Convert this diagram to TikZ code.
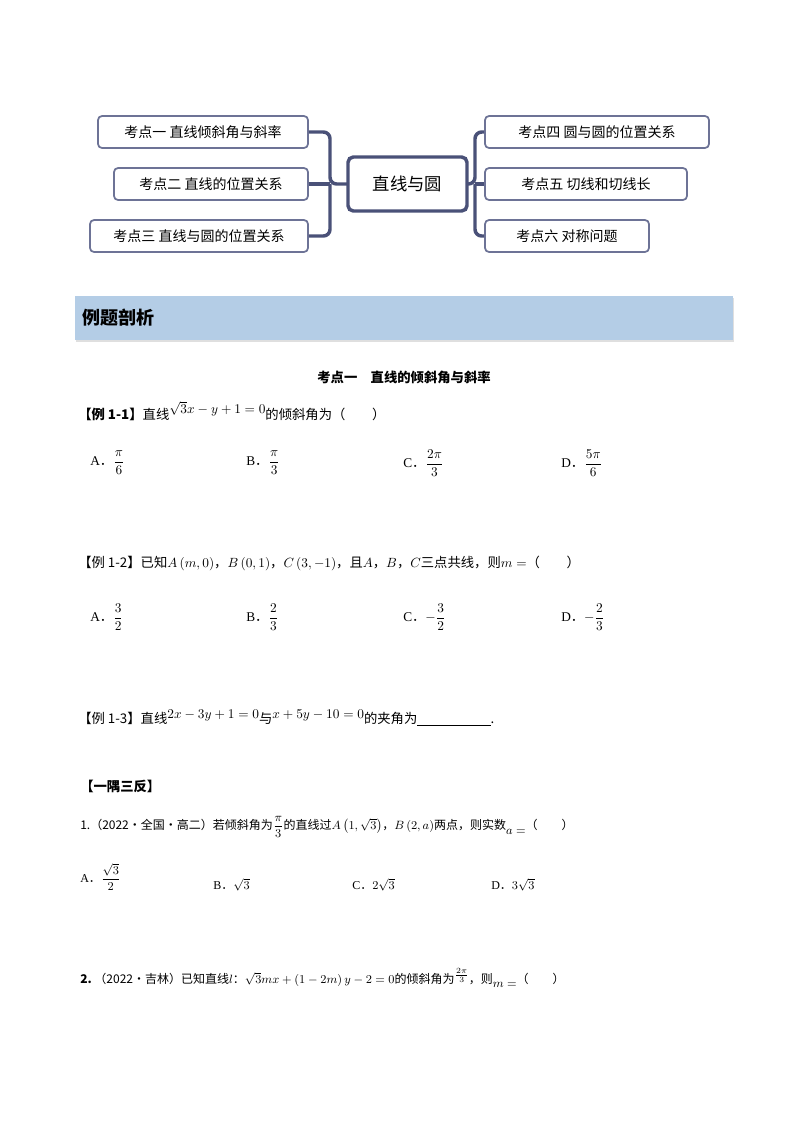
\documentclass[tikz,border=0pt]{standalone}
\usepackage{fontspec}
\usepackage{amsmath}
\setmainfont{Liberation Serif}
\newfontfamily\cjk{Noto Sans CJK SC}
\newcommand{\dd}{{\cjk ．}}
\usetikzlibrary{shadows}
\definecolor{bordc}{HTML}{6D7396}
\definecolor{linkc}{HTML}{4A5178}
\definecolor{bannerc}{HTML}{B4CDE6}
\tikzset{
 mbox/.style={draw=bordc,line width=1.3pt,rounded corners=3pt,fill=white,inner sep=0pt,font=\cjk\fontsize{10.5}{12}\selectfont},
 cbox/.style={draw=linkc,line width=2.6pt,rounded corners=4pt,fill=white,inner sep=0pt,font=\cjk\fontsize{13}{15}\selectfont},
 link/.style={draw=linkc,line width=2.6pt,rounded corners=5pt},
 txt/.style={anchor=west,inner sep=0pt,font=\cjk\fontsize{10}{12}\selectfont},
 opt/.style={anchor=west,inner sep=0pt,font=\fontsize{10}{12}\selectfont}
}
\begin{document}
\begin{tikzpicture}[x=0.75pt,y=-0.75pt]
\useasboundingbox (0,0) rectangle (800,1132);
% mind map
\node[mbox,minimum width=210*0.75pt,minimum height=32*0.75pt] (l1) at (203,132) {考点一\ 直线倾斜角与斜率};
\node[mbox,minimum width=194*0.75pt,minimum height=32*0.75pt] (l2) at (211,184) {考点二\ 直线的位置关系};
\node[mbox,minimum width=218*0.75pt,minimum height=32*0.75pt] (l3) at (199,236) {考点三\ 直线与圆的位置关系};
\node[mbox,minimum width=224*0.75pt,minimum height=32*0.75pt] (r1) at (597,132) {考点四\ 圆与圆的位置关系};
\node[mbox,minimum width=202*0.75pt,minimum height=32*0.75pt] (r2) at (586,184) {考点五\ 切线和切线长};
\node[mbox,minimum width=164*0.75pt,minimum height=32*0.75pt] (r3) at (567,236) {考点六\ 对称问题};
\coordinate (jl) at (330,184);
\coordinate (jr) at (475,184);
\draw[link] (l1.east) -| (jl) -- (407.5,184);
\draw[link] (l3.east) -| (jl);
\draw[link] (l2.east) -- (jl);
\draw[link] (r1.west) -| (jr) -- (407.5,184);
\draw[link] (r3.west) -| (jr);
\draw[link] (r2.west) -- (jr);
\node[cbox,minimum width=119*0.75pt,minimum height=54*0.75pt] (c) at (407.5,184) {直线与圆};
% banner
\node[fill=bannerc,drop shadow={opacity=0.25,shadow xshift=1pt,shadow yshift=-1.5pt},minimum width=658*0.75pt,minimum height=44*0.75pt,inner sep=0pt] (ban) at (404,318) {};
\node[anchor=west,inner sep=0pt,font=\cjk\bfseries\fontsize{13.5}{15}\selectfont] (bt) at (82,318) {例题剖析};
% section title
\node[inner sep=0pt,font=\cjk\bfseries\fontsize{10}{12}\selectfont] (sec) at (404,377) {考点一\quad 直线的倾斜角与斜率};
% example 1-1
\node[txt] (e11) at (78,411) {\textbf{【例 1-1】}直线$\raisebox{4pt}{$\sqrt{3}x-y+1=0$}$的倾斜角为（\qquad ）};
\node[opt] (a1) at (90,463) {A\dd$\dfrac{\pi}{6}$};
\node[opt] (b1) at (246,463) {B\dd$\dfrac{\pi}{3}$};
\node[opt] (c1) at (403,463) {C\dd$\dfrac{2\pi}{3}$};
\node[opt] (d1) at (561,463) {D\dd$\dfrac{5\pi}{6}$};
% example 1-2
\node[txt] (e12) at (78,563) {【例 1-2】已知$A\left(m,0\right)$，$B\left(0,1\right)$，$C\left(3,-1\right)$，且$A$，$B$，$C$三点共线，则$m=$（\qquad ）};
\node[opt] (a2) at (90,617) {A\dd$\dfrac{3}{2}$};
\node[opt] (b2) at (246,617) {B\dd$\dfrac{2}{3}$};
\node[opt] (c2o) at (403,617) {C\dd$-\dfrac{3}{2}$};
\node[opt] (d2) at (561,617) {D\dd$-\dfrac{2}{3}$};
% example 1-3
\node[txt] (e13) at (78,718) {【例 1-3】直线$\raisebox{4pt}{$2x-3y+1=0$}$与$\raisebox{4pt}{$x+5y-10=0$}$的夹角为\underline{\hspace{55pt}}.};
% practice
\node[txt,font=\cjk\bfseries\fontsize{10}{12}\selectfont] (yu) at (80,786) {【一隅三反】};
\node[txt,font=\cjk\fontsize{9}{11}\selectfont] (p1) at (80,827) {1.（2022·全国·高二）若倾斜角为$\dfrac{\pi}{3}$的直线过$A\left(1,\sqrt{3}\right)$，$B\left(2,a\right)$两点，则实数$\raisebox{-4pt}{$a=$}$（\qquad ）};
\node[opt,font=\fontsize{9}{11}\selectfont] (a3) at (80,877) {A\dd$\dfrac{\sqrt{3}}{2}$};
\node[opt,font=\fontsize{9}{11}\selectfont] (b3) at (213,885) {B\dd$\sqrt{3}$};
\node[opt,font=\fontsize{9}{11}\selectfont] (c3) at (352,885) {C\dd$2\sqrt{3}$};
\node[opt,font=\fontsize{9}{11}\selectfont] (d3) at (491,885) {D\dd$3\sqrt{3}$};
\node[txt,font=\cjk\fontsize{9}{11}\selectfont] (p2) at (80,978) {\textbf{2.}\ （2022·吉林）已知直线$l$：$\sqrt{3}mx+\left(1-2m\right)y-2=0$的倾斜角为$\raisebox{4pt}{$\tfrac{2\pi}{3}$}$，则$\raisebox{-3pt}{$m=$}$（\qquad ）};
\end{tikzpicture}
\end{document}
